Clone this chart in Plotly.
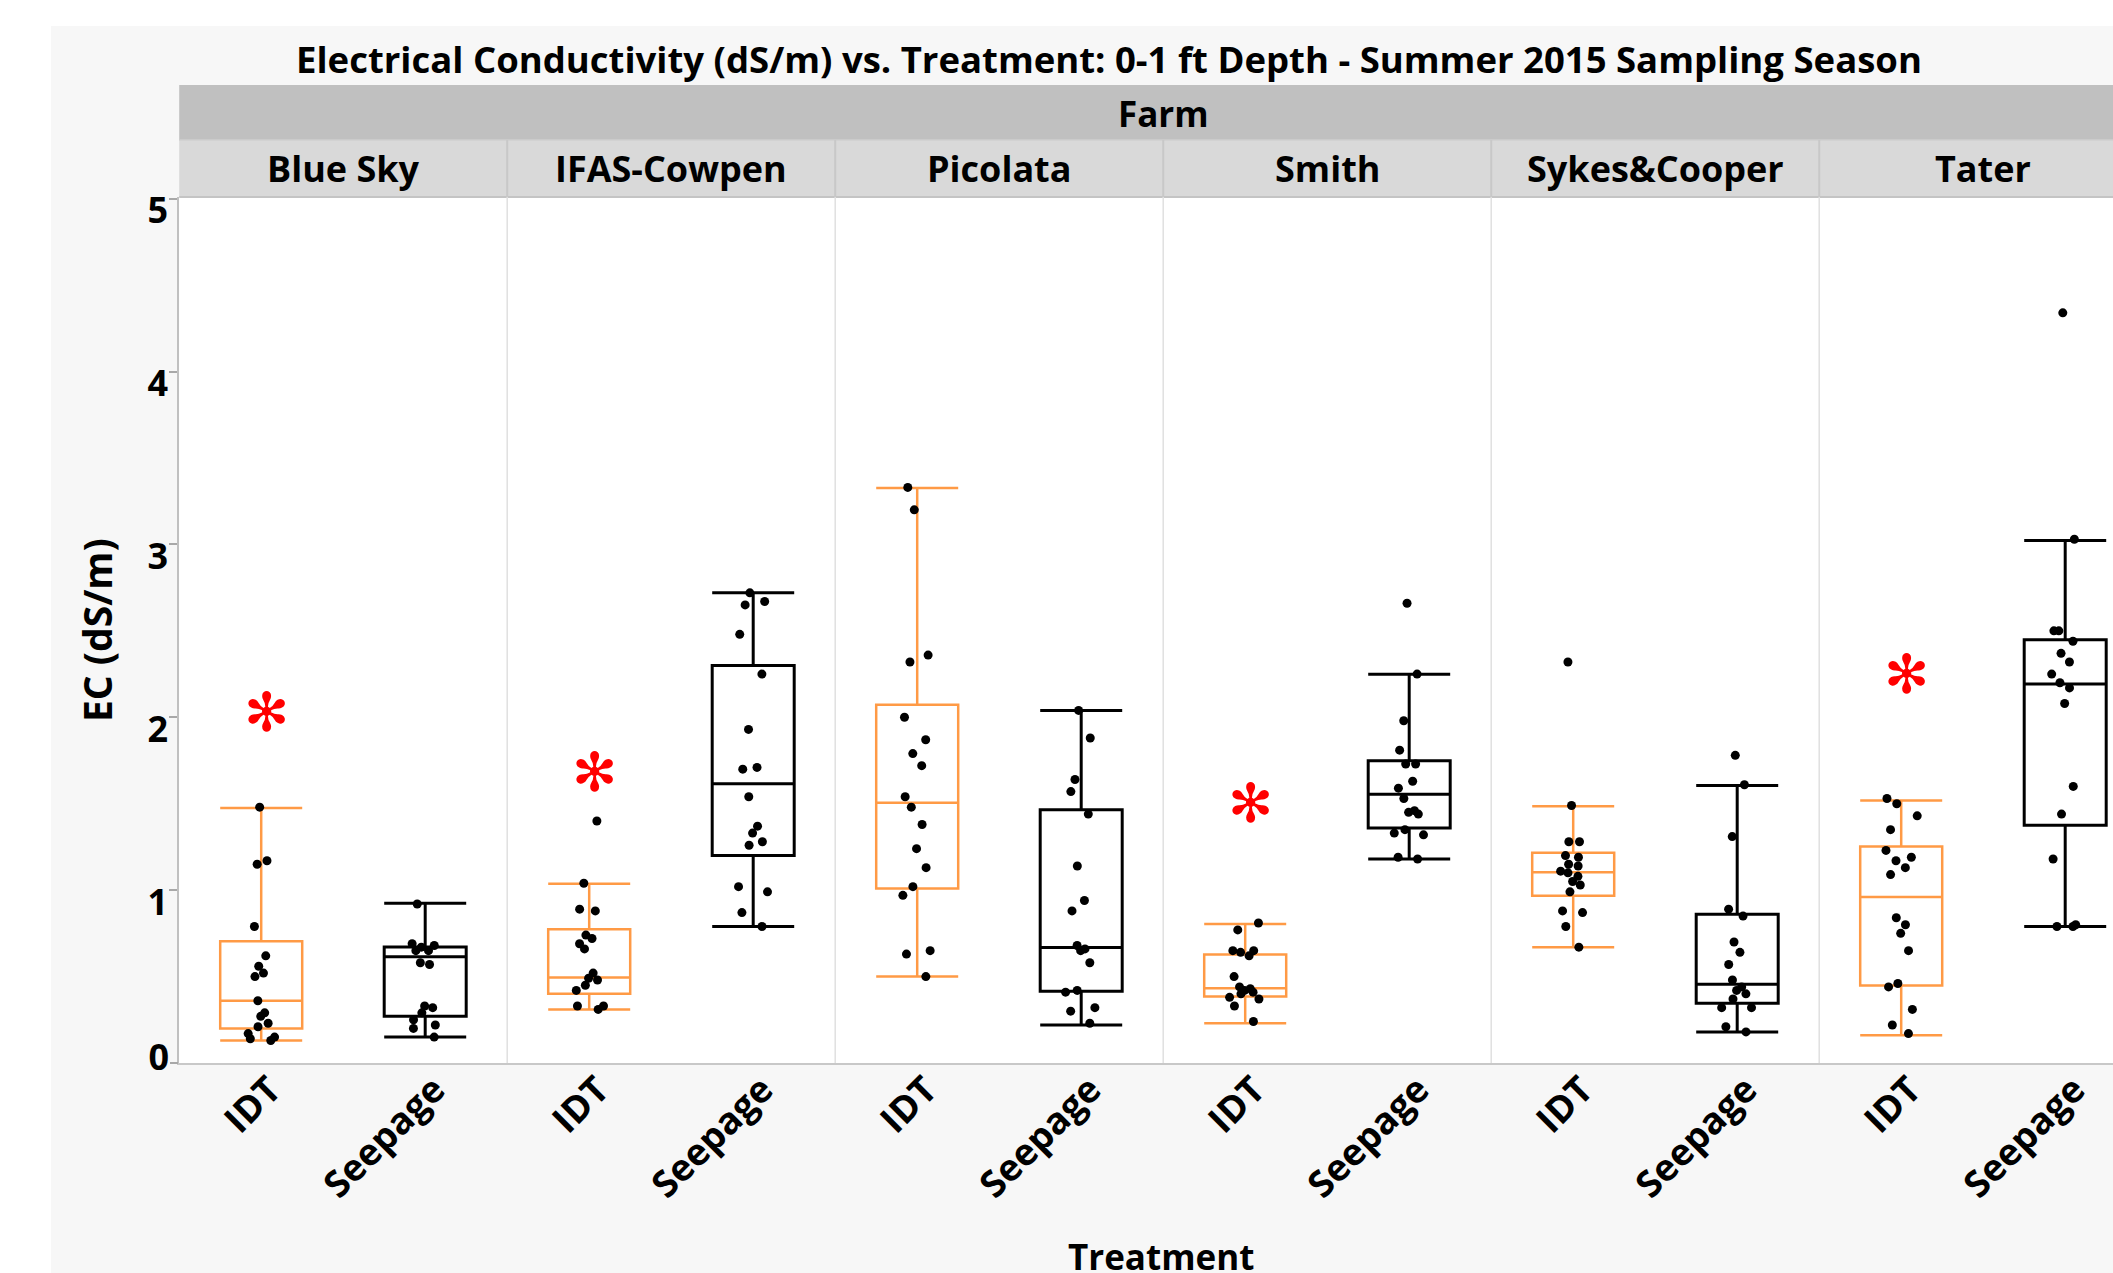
import plotly.graph_objects as go
from plotly.subplots import make_subplots

# ---------------- data ----------------
farms = ["Blue Sky", "IFAS-Cowpen", "Picolata", "Smith", "Sykes&Cooper", "Tater"]
treatments = ["IDT", "Seepage"]
y_ticks_upper = [1, 2, 3, 4, 5]
y_ticks_zero = [0]

# box statistics, order: farm x treatment (IDT, Seepage)
lower_fence = [0.13, 0.15, 0.31, 0.79, 0.50, 0.22, 0.23, 1.18, 0.67, 0.18, 0.16, 0.79]
q1_vals     = [0.20, 0.27, 0.40, 1.20, 1.01, 0.415, 0.385, 1.36, 0.967, 0.346, 0.449, 1.375]
median_vals = [0.36, 0.615, 0.495, 1.615, 1.505, 0.668, 0.432, 1.555, 1.103, 0.455, 0.96, 2.193]
q3_vals     = [0.704, 0.671, 0.774, 2.299, 2.073, 1.465, 0.628, 1.748, 1.216, 0.86, 1.252, 2.449]
upper_fence = [1.475, 0.924, 1.037, 2.721, 3.326, 2.04, 0.804, 2.249, 1.485, 1.605, 1.518, 3.023]

bluesky_idt = [1.48, 1.17, 1.15, 0.79, 0.62, 0.56, 0.52, 0.50, 0.36, 0.29, 0.27, 0.23, 0.21, 0.17, 0.15, 0.14, 0.13]
bluesky_seep = [0.92, 0.69, 0.68, 0.67, 0.65, 0.65, 0.58, 0.57, 0.33, 0.32, 0.29, 0.25, 0.22, 0.20, 0.15]
ifas_idt = [1.40, 1.04, 0.89, 0.88, 0.74, 0.72, 0.69, 0.66, 0.52, 0.49, 0.48, 0.45, 0.42, 0.33, 0.33, 0.31]
ifas_seep = [2.72, 2.67, 2.65, 2.48, 2.25, 1.93, 1.71, 1.70, 1.54, 1.37, 1.33, 1.28, 1.26, 1.02, 0.99, 0.87, 0.79]
picolata_idt = [3.33, 3.20, 2.36, 2.32, 2.00, 1.87, 1.79, 1.72, 1.54, 1.48, 1.38, 1.24, 1.13, 1.02, 0.97, 0.65, 0.63, 0.50]
picolata_seep = [2.04, 1.88, 1.64, 1.57, 1.44, 1.14, 0.94, 0.88, 0.68, 0.66, 0.65, 0.58, 0.42, 0.41, 0.32, 0.30, 0.23]
smith_idt = [0.81, 0.77, 0.65, 0.65, 0.64, 0.62, 0.50, 0.44, 0.43, 0.42, 0.41, 0.40, 0.38, 0.37, 0.33, 0.24]
smith_seep = [2.66, 2.25, 1.98, 1.81, 1.73, 1.73, 1.63, 1.59, 1.53, 1.45, 1.46, 1.44, 1.35, 1.33, 1.32, 1.19, 1.18]
sykes_idt = [2.32, 1.49, 1.28, 1.28, 1.20, 1.19, 1.15, 1.14, 1.11, 1.10, 1.08, 1.05, 1.03, 0.99, 0.88, 0.87, 0.79, 0.67]
sykes_seep = [1.78, 1.61, 1.31, 0.89, 0.85, 0.70, 0.64, 0.57, 0.48, 0.44, 0.42, 0.40, 0.37, 0.32, 0.32, 0.21, 0.18]
tater_idt = [1.53, 1.50, 1.43, 1.35, 1.23, 1.19, 1.17, 1.13, 1.09, 0.84, 0.80, 0.75, 0.65, 0.46, 0.44, 0.31, 0.22, 0.17]
tater_seep = [4.34, 3.03, 2.50, 2.50, 2.44, 2.37, 2.32, 2.25, 2.20, 2.17, 2.08, 1.60, 1.44, 1.18, 0.80, 0.79, 0.79]

points = [bluesky_idt, bluesky_seep, ifas_idt, ifas_seep, picolata_idt, picolata_seep,
          smith_idt, smith_seep, sykes_idt, sykes_seep, tater_idt, tater_seep]

# significance markers (IDT boxes)
sig_farms = ["Blue Sky", "IFAS-Cowpen", "Smith", "Tater"]
sig_y = [2.0, 1.65, 1.47, 2.22]

# ---------------- layout constants ----------------
W, H = 2113, 1273
PLOT_L = 179.2
PANEL_W = 328.0
PLOT_T, PLOT_B = 197.0, 1063.0
BG_L, BG_T = 51.0, 26.0
ORANGE = "#FF9A45"
FONT = "Open Sans"
Y_RANGE = [0, 5.01]

def px(x):
    return x / W

def py(y):
    return 1 - y / H

fig = make_subplots(rows=1, cols=6, shared_yaxes=True, horizontal_spacing=0)

for fi, farm in enumerate(farms):
    col = fi + 1
    for ti, tr in enumerate(treatments):
        g = fi * 2 + ti
        color = ORANGE if tr == "IDT" else "black"
        lw = 2.5 if tr == "IDT" else 3
        fig.add_trace(go.Box(
            x=[ti], q1=[q1_vals[g]], median=[median_vals[g]], q3=[q3_vals[g]],
            lowerfence=[lower_fence[g]], upperfence=[upper_fence[g]],
            width=0.5, whiskerwidth=1.0, boxpoints=False,
            line=dict(color=color, width=lw), fillcolor="rgba(0,0,0,0)",
            name=f"{farm} {tr}", showlegend=False, hoverinfo="skip"),
            row=1, col=col)
        fig.add_trace(go.Box(
            y=points[g], x0=ti, width=0.5, boxpoints="all", jitter=0.45, pointpos=0,
            line=dict(color="rgba(0,0,0,0)", width=0), fillcolor="rgba(0,0,0,0)",
            marker=dict(color="black", size=9), hoveron="points",
            name=f"{farm} {tr} pts", showlegend=False),
            row=1, col=col)
    if farm in sig_farms:
        fig.add_trace(go.Scatter(
            x=[0.03], y=[sig_y[sig_farms.index(farm)]], mode="text", text=["✻"],
            textfont=dict(color="red", size=54), showlegend=False, hoverinfo="skip"),
            row=1, col=col)

shapes = []
# white strips outside the gray background
shapes.append(dict(type="rect", xref="paper", yref="paper", x0=0, x1=px(BG_L), y0=0, y1=1,
                   fillcolor="white", line=dict(width=0), layer="below"))
shapes.append(dict(type="rect", xref="paper", yref="paper", x0=0, x1=1, y0=py(BG_T), y1=1,
                   fillcolor="white", line=dict(width=0), layer="below"))
# header bands
shapes.append(dict(type="rect", xref="paper", yref="paper", x0=px(PLOT_L), x1=1,
                   y0=py(140), y1=py(85), fillcolor="#c0c0c0", line=dict(width=0), layer="below"))
shapes.append(dict(type="rect", xref="paper", yref="paper", x0=px(PLOT_L), x1=1,
                   y0=py(PLOT_T), y1=py(140), fillcolor="#d9d9d9", line=dict(width=0), layer="below"))
shapes.append(dict(type="line", xref="paper", yref="paper", x0=px(PLOT_L), x1=1,
                   y0=py(PLOT_T), y1=py(PLOT_T), line=dict(color="#c4c4c4", width=2)))
shapes.append(dict(type="line", xref="paper", yref="paper", x0=px(PLOT_L), x1=1,
                   y0=py(140), y1=py(140), line=dict(color="#cfcfcf", width=1.5)))

annotations = []
for fi, farm in enumerate(farms):
    left = PLOT_L + fi * PANEL_W
    right = min(left + PANEL_W, W)
    ax = "xaxis" if fi == 0 else f"xaxis{fi + 1}"
    full_right = -0.5 + 2 * (right - left) / PANEL_W
    fig.layout[ax].update(domain=[px(left), px(right)], range=[-0.5, full_right],
                          tickvals=[0, 1], ticktext=treatments, tickangle=-45,
                          tickfont=dict(family=FONT, size=37, color="black", weight="bold"),
                          ticklabelstandoff=-12, ticklabelshift=9,
                          showline=True, linecolor="#c8c8c8", linewidth=2, showgrid=False,
                          zeroline=False, ticks="", fixedrange=True)
    if fi > 0:
        shapes.append(dict(type="line", xref="paper", yref="paper", x0=px(left), x1=px(left),
                           y0=py(PLOT_B), y1=py(PLOT_T), line=dict(color="#e0e0e0", width=1.5)))
        shapes.append(dict(type="line", xref="paper", yref="paper", x0=px(left), x1=px(left),
                           y0=py(PLOT_T), y1=py(140), line=dict(color="#c8c8c8", width=2)))
    annotations.append(dict(text=farm, x=px(left + PANEL_W / 2), y=py(168.5), xref="paper",
                            yref="paper", showarrow=False, xanchor="center", yanchor="middle",
                            font=dict(family=FONT, size=36, color="black", weight="bold")))

for i in range(1, 7):
    ay = "yaxis" if i == 1 else f"yaxis{i}"
    fig.layout[ay].update(domain=[py(PLOT_B), py(PLOT_T)], range=Y_RANGE,
                          showgrid=False, zeroline=False, fixedrange=True)
tick_font = dict(family=FONT, size=36, color="black", weight="bold")
fig.layout.yaxis.update(tickvals=y_ticks_upper, ticks="outside", ticklen=8, tickcolor="#a8a8a8",
                        tickwidth=1.5, showline=True, linecolor="#c0c0c0", linewidth=2,
                        ticklabelstandoff=-6, ticklabelshift=12, tickfont=tick_font)
# separate axis for the "0" label (sits just above its tick, like the reference)
fig.update_layout(yaxis7=dict(overlaying="y", side="left", anchor="x", range=Y_RANGE,
                              domain=[py(PLOT_B), py(PLOT_T)], tickvals=y_ticks_zero,
                              ticks="outside", ticklen=8, tickcolor="#a8a8a8", tickwidth=1.5,
                              showline=False, showgrid=False, zeroline=False,
                              ticklabelstandoff=-6, ticklabelshift=-6, tickfont=tick_font,
                              fixedrange=True))
fig.add_trace(go.Scatter(x=[None], y=[None], xaxis="x", yaxis="y7", showlegend=False,
                         hoverinfo="skip"))

annotations.append(dict(text="Electrical Conductivity (dS/m) vs. Treatment: 0-1 ft Depth - Summer 2015 Sampling Season",
                        x=px(1109), y=py(59), xref="paper", yref="paper", showarrow=False,
                        xanchor="center", yanchor="middle",
                        font=dict(family=FONT, size=36.5, color="black", weight="bold")))
annotations.append(dict(text="Farm", x=px(PLOT_L + 3 * PANEL_W), y=py(113), xref="paper",
                        yref="paper", showarrow=False, xanchor="center", yanchor="middle",
                        font=dict(family=FONT, size=35, color="black", weight="bold")))
annotations.append(dict(text="EC (dS/m)", x=px(97), y=py(630), xref="paper", yref="paper",
                        showarrow=False, xanchor="center", yanchor="middle", textangle=-90,
                        font=dict(family=FONT, size=39, color="black", weight="bold")))
annotations.append(dict(text="Treatment", x=px(1161), y=py(1231), xref="paper", yref="paper",
                        showarrow=False, xanchor="center", yanchor="top",
                        font=dict(family=FONT, size=35, color="black", weight="bold")))

fig.update_layout(width=W, height=H, margin=dict(l=0, r=0, t=0, b=0, autoexpand=False),
                  paper_bgcolor="#f7f7f7", plot_bgcolor="white", showlegend=False,
                  boxmode="overlay", shapes=shapes, annotations=annotations)

fig.write_html("out.html")
